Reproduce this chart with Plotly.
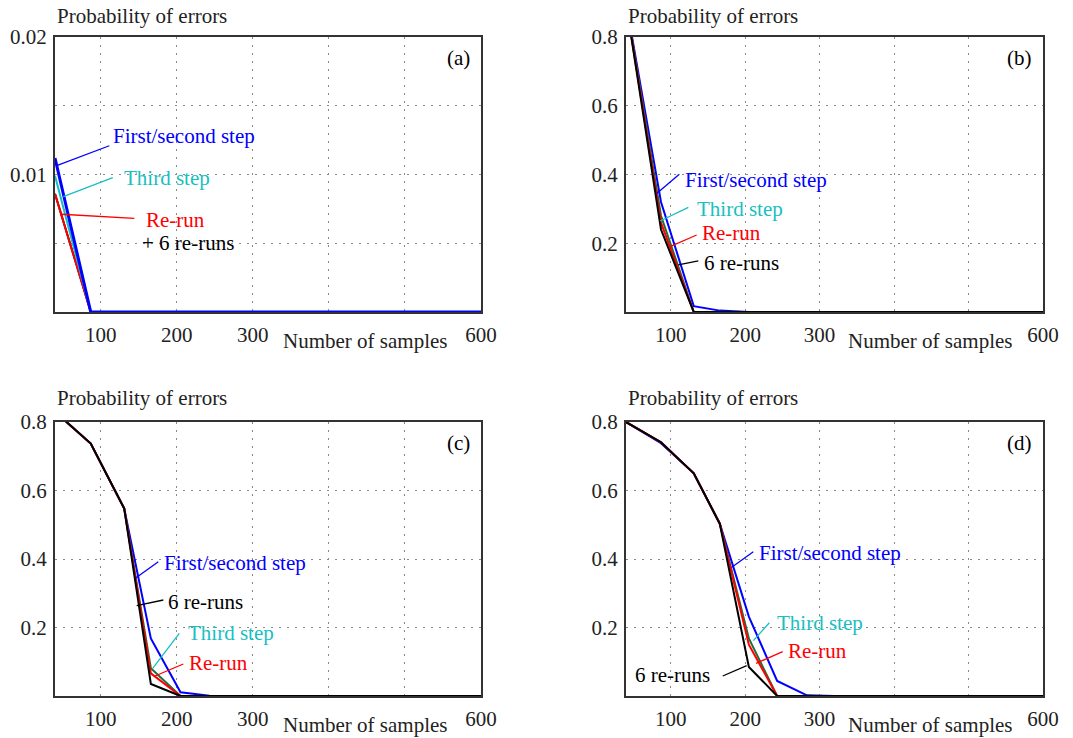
import plotly.graph_objects as go

# ---------------- data ----------------
samples = [40, 87, 131, 166, 205, 243, 283, 320, 400, 500, 600]

# panel (a)
a_first = [0.0112, 0, 0, 0, 0, 0, 0, 0, 0, 0, 0]
a_third = [0.0099, 0, 0, 0, 0, 0, 0, 0, 0, 0, 0]
a_rerun = [0.0086, 0, 0, 0, 0, 0, 0, 0, 0, 0, 0]
a_six = [0.0086, 0, 0, 0, 0, 0, 0, 0, 0, 0, 0]

# panel (b)
b_first = [0.90, 0.32, 0.017, 0.004, 0, 0, 0, 0, 0, 0, 0]
b_third = [0.90, 0.28, 0, 0, 0, 0, 0, 0, 0, 0, 0]
b_rerun = [0.90, 0.26, 0, 0, 0, 0, 0, 0, 0, 0, 0]
b_six = [0.90, 0.24, 0, 0, 0, 0, 0, 0, 0, 0, 0]

# panel (c)
c_first = [0.83, 0.737, 0.547, 0.168, 0.011, 0.001, 0, 0, 0, 0, 0]
c_third = [0.83, 0.737, 0.547, 0.081, 0, 0, 0, 0, 0, 0, 0]
c_rerun = [0.83, 0.737, 0.547, 0.066, 0, 0, 0, 0, 0, 0, 0]
c_six = [0.83, 0.737, 0.547, 0.035, 0, 0, 0, 0, 0, 0, 0]

# panel (d)
d_first = [0.80, 0.738, 0.65, 0.503, 0.232, 0.044, 0.002, 0, 0, 0, 0]
d_third = [0.80, 0.741, 0.65, 0.503, 0.168, 0, 0, 0, 0, 0, 0]
d_rerun = [0.80, 0.741, 0.65, 0.503, 0.150, 0, 0, 0, 0, 0, 0]
d_six = [0.80, 0.741, 0.65, 0.503, 0.085, 0, 0, 0, 0, 0, 0]

x_tickvals = [100, 200, 300, 400, 500, 600]
x_ticktext = ["100", "200", "300", "", "", "600"]
ya_tickvals = [0.005, 0.01, 0.015, 0.02]
ya_ticktext = ["", "0.01", "", "0.02"]
y_tickvals = [0.2, 0.4, 0.6, 0.8]
y_ticktext = ["0.2", "0.4", "0.6", "0.8"]

labels = ["First/second step", "Third step", "Re-run", "6 re-runs"]

# ---------------- style ----------------
BLUE = "#0000ff"
CYAN = "#19bfbf"
GREEN = "#1f6e3c"
RED = "#ff0000"
BLACK = "#000000"
FONT = "Liberation Serif, Times New Roman, serif"
FS = 21
TXT = "#222222"

fig = go.Figure()

def add(xa, ya, y, color, width, name):
    fig.add_trace(go.Scatter(x=samples, y=y, mode="lines", name=name,
                             line=dict(color=color, width=width),
                             xaxis=xa, yaxis=ya, showlegend=False))

# (a): blue on top
add("x", "y", a_six, BLACK, 2, labels[3])
add("x", "y", a_rerun, RED, 2, labels[2])
add("x", "y", a_third, CYAN, 2, labels[1])
add("x", "y", a_first, BLUE, 3, labels[0])

for xa, ya, f, t, r, s in [("x2", "y2", b_first, b_third, b_rerun, b_six),
                           ("x3", "y3", c_first, c_third, c_rerun, c_six),
                           ("x4", "y4", d_first, d_third, d_rerun, d_six)]:
    add(xa, ya, f, BLUE, 2, labels[0])
    add(xa, ya, t, GREEN, 2, labels[1])
    add(xa, ya, r, RED, 2, labels[2])
    add(xa, ya, s, BLACK, 2, labels[3])

xl, xr = [0.05126, 0.44828], [0.58341, 0.97204]
yt, yb = [0.57724, 0.94986], [0.05691, 0.42818]

def xaxis(dom, anchor):
    return dict(domain=dom, anchor=anchor, range=[40, 600], automargin=False,
                tickvals=x_tickvals, ticktext=x_ticktext,
                showgrid=True, gridcolor="#8a8a8a", griddash="2px,6px", gridwidth=1,
                showline=True, mirror=True, linecolor="#333333", linewidth=2,
                ticks="", ticklabelstandoff=3, zeroline=False,
                tickfont=dict(family=FONT, size=FS, color=TXT))

def yaxis(dom, anchor, rng, tv, tt):
    return dict(domain=dom, anchor=anchor, range=rng, automargin=False,
                tickvals=tv, ticktext=tt,
                showgrid=True, gridcolor="#8a8a8a", griddash="2px,6px", gridwidth=1,
                showline=True, mirror=True, linecolor="#333333", linewidth=2,
                ticks="", ticklabelstandoff=2, zeroline=False,
                tickfont=dict(family=FONT, size=FS, color=TXT))

fig.update_layout(
    width=1073, height=738,
    margin=dict(l=0, r=0, t=0, b=0, autoexpand=False),
    paper_bgcolor="white", plot_bgcolor="white",
    xaxis=xaxis(xl, "y"), yaxis=yaxis(yt, "x", [0, 0.02], ya_tickvals, ya_ticktext),
    xaxis2=xaxis(xr, "y2"), yaxis2=yaxis(yt, "x2", [0, 0.8], y_tickvals, y_ticktext),
    xaxis3=xaxis(xl, "y3"), yaxis3=yaxis(yb, "x3", [0, 0.8], y_tickvals, y_ticktext),
    xaxis4=xaxis(xr, "y4"), yaxis4=yaxis(yb, "x4", [0, 0.8], y_tickvals, y_ticktext),
)

annotations = []
shapes = []

def text(xref, yref, x, y, s, color=TXT, xanchor="left"):
    annotations.append(dict(xref=xref, yref=yref, x=x, y=y, text=s, showarrow=False,
                            xanchor=xanchor, yanchor="middle",
                            font=dict(family=FONT, size=FS, color=color)))

def leader(xref, yref, x0, y0, x1, y1, color):
    shapes.append(dict(type="line", xref=xref, yref=yref, x0=x0, y0=y0, x1=x1, y1=y1,
                       line=dict(color=color, width=1.3)))

# axis titles and panel tags
for i, (tag, ytitle) in enumerate([("(a)", 1.0775), ("(b)", 1.0775), ("(c)", 1.0865), ("(d)", 1.0865)]):
    sfx = "" if i == 0 else str(i + 1)
    text("x" + sfx + " domain", "y" + sfx + " domain", 0.0, ytitle, "Probability of errors")
    text("x" + sfx, "y" + sfx + " domain", 448, -0.105, "Number of samples", xanchor="center")
    text("x" + sfx + " domain", "y" + sfx + " domain", 0.978, 0.925, tag, color=BLACK, xanchor="right")

# panel (a) labels
text("x", "y", 113.6, 0.0128, labels[0], BLUE)
leader("x", "y", 42.2, 0.01064, 111.4, 0.01209, BLUE)
text("x", "y", 127.7, 0.00977, labels[1], CYAN)
leader("x", "y", 50.9, 0.00839, 115.9, 0.00977, CYAN)
text("x", "y", 157, 0.00669, labels[2], RED)
leader("x", "y", 48.8, 0.00711, 144.2, 0.00681, RED)
text("x", "y", 151.7, 0.0050, "+ " + labels[3], BLACK)

# panel (b)
text("x2", "y2", 117, 0.384, labels[0], BLUE)
leader("x2", "y2", 81.2, 0.345, 111.6, 0.401, BLUE)
text("x2", "y2", 132.7, 0.2996, labels[1], CYAN)
leader("x2", "y2", 85.7, 0.2647, 123.7, 0.3046, CYAN)
text("x2", "y2", 139.4, 0.229, labels[2], RED)
leader("x2", "y2", 99.1, 0.19, 134.9, 0.224, RED)
text("x2", "y2", 141.7, 0.1417, labels[3], BLACK)
leader("x2", "y2", 110.2, 0.137, 137.1, 0.149, BLACK)

# panel (c)
text("x3", "y3", 181.1, 0.3874, labels[0], BLUE)
leader("x3", "y3", 146.5, 0.3455, 175.8, 0.392, BLUE)
text("x3", "y3", 185.5, 0.2754, labels[3], BLACK)
leader("x3", "y3", 147.4, 0.2637, 182.4, 0.2803, BLACK)
text("x3", "y3", 211.8, 0.183, labels[1], CYAN)
leader("x3", "y3", 168.4, 0.0809, 203.4, 0.183, CYAN)
text("x3", "y3", 213.1, 0.0973, labels[2], RED)
leader("x3", "y3", 171.5, 0.0584, 208.7, 0.0934, RED)

# panel (d)
text("x4", "y4", 216.3, 0.4166, labels[0], BLUE)
leader("x4", "y4", 182, 0.3757, 211, 0.4213, BLUE)
text("x4", "y4", 240.1, 0.2122, labels[1], CYAN)
leader("x4", "y4", 211, 0.1615, 232.5, 0.214, CYAN)
text("x4", "y4", 254.9, 0.1323, labels[2], RED)
leader("x4", "y4", 214.6, 0.0954, 250.4, 0.1294, RED)
text("x4", "y4", 155.9, 0.0613, labels[3], BLACK, xanchor="right")
leader("x4", "y4", 169.9, 0.0584, 202.1, 0.0885, BLACK)

fig.update_layout(annotations=annotations, shapes=shapes)
fig.write_html("out.html")
